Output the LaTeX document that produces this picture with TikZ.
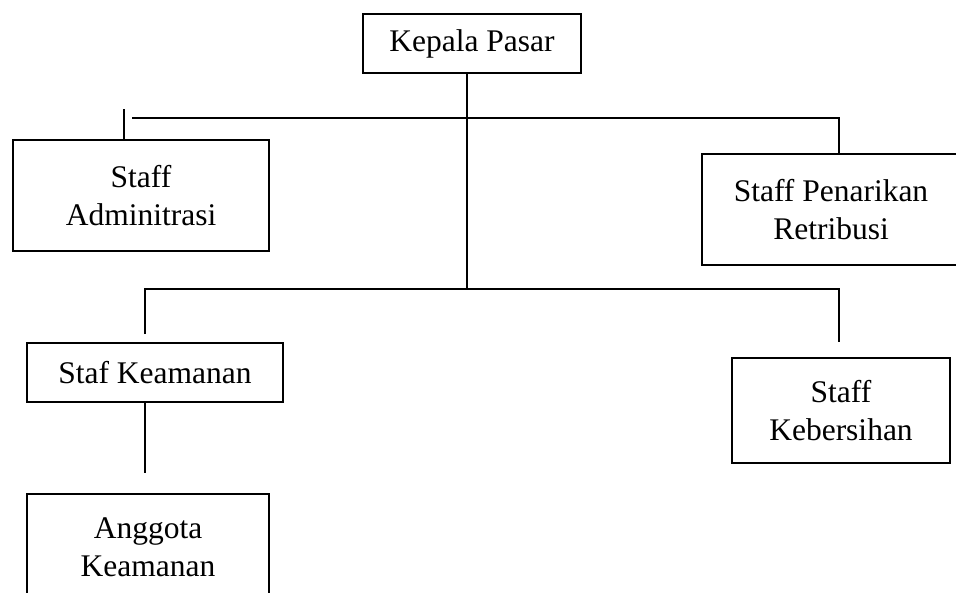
\documentclass[tikz,border=0pt]{standalone}
\usepackage{fontspec}
\setmainfont{Liberation Serif}
\begin{document}
\begin{tikzpicture}[x=1pt,y=-1pt,
  box/.style={draw=black,line width=2.2pt,fill=white,inner sep=0pt,align=center,
    font=\fontsize{31.5}{37.5}\selectfont},
  link/.style={draw=black,line width=1.4pt}]
\useasboundingbox (0,0) rectangle (956,592);
\node[box,minimum width=218pt,minimum height=59pt] (kepala) at (472,43.5) {Kepala Pasar};
\node[box,minimum width=256pt,minimum height=111pt] (admin) at (141,195.5) {Staff\\Adminitrasi};
\node[box,minimum width=258pt,minimum height=111pt] (tarik) at (831,209.5) {Staff Penarikan\\Retribusi};
\node[box,minimum width=256pt,minimum height=59pt] (aman) at (155,372.5) {Staf Keamanan};
\node[box,minimum width=242pt,minimum height=106pt] (anggota) at (148,547) {Anggota\\Keamanan};
\node[box,minimum width=218pt,minimum height=105pt] (bersih) at (841,410.5) {Staff\\Kebersihan};
% junction coordinates
\coordinate (ktop) at (467,73);
\coordinate (kmid) at (467,289);
\coordinate (hl) at (132,118);
\coordinate (hr) at (839,118);
\coordinate (tickt) at (124,109);
\coordinate (tickb) at (124,140);
\coordinate (bl) at (145,289);
\coordinate (br) at (839,289);
\coordinate (blend) at (145,334);
\coordinate (brend) at (839,342);
\coordinate (ab) at (145,402);
\coordinate (aend) at (145,473);
\coordinate (tt) at (839,154);
\draw[link] (ktop) -- (kmid);
\draw[link] (hl) -- (hr) -- (tt);
\draw[link] (tickt) -- (tickb);
\draw[link] (blend) -- (bl) -- (br) -- (brend);
\draw[link] (ab) -- (aend);
\end{tikzpicture}
\end{document}
